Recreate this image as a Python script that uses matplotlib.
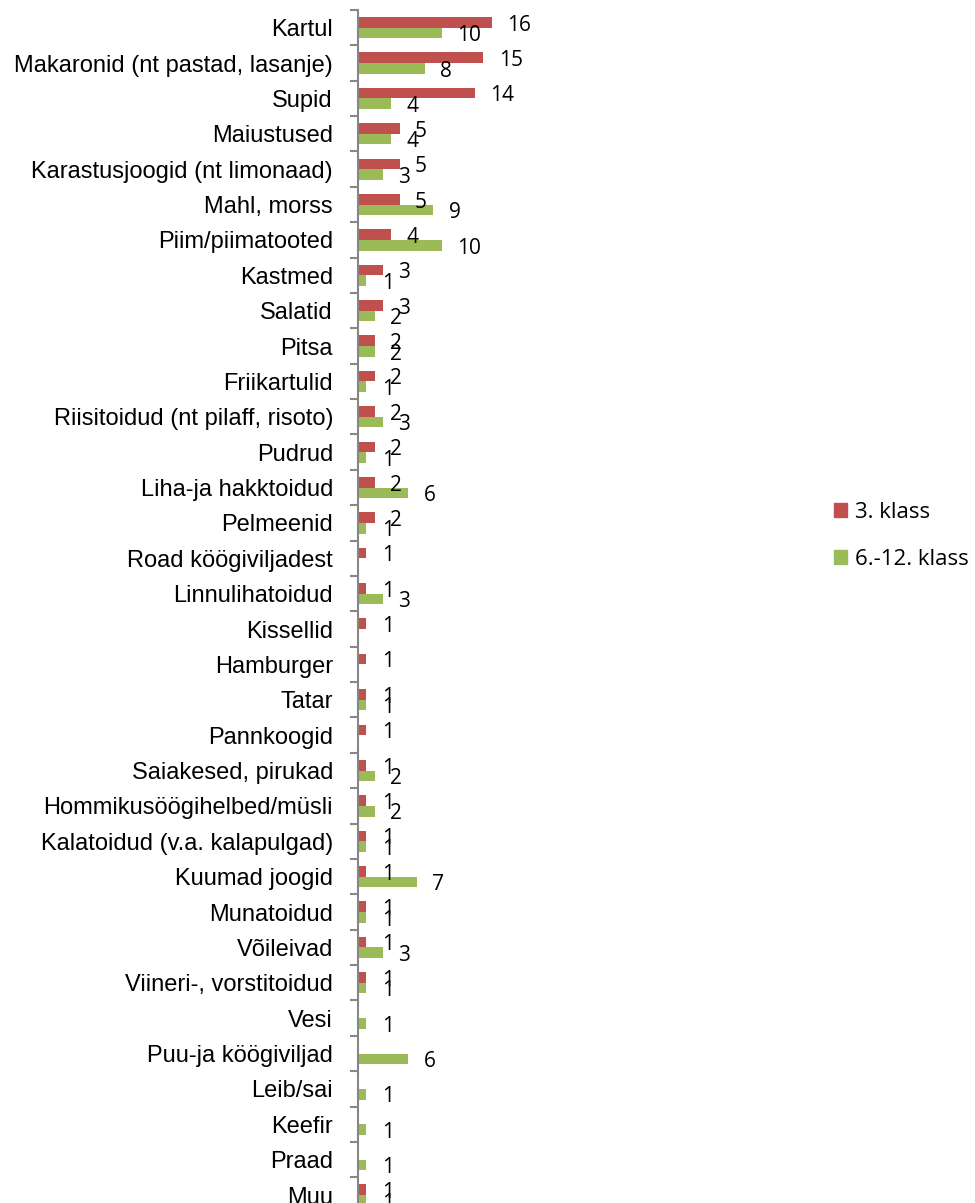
import matplotlib.pyplot as plt
from matplotlib.patches import Patch
import numpy as np

categories = [
    "Kartul", "Makaronid (nt pastad, lasanje)", "Supid", "Maiustused",
    "Karastusjoogid (nt limonaad)", "Mahl, morss", "Piim/piimatooted", "Kastmed",
    "Salatid", "Pitsa", "Friikartulid", "Riisitoidud (nt pilaff, risoto)",
    "Pudrud", "Liha-ja hakktoidud", "Pelmeenid", "Road köögiviljadest",
    "Linnulihatoidud", "Kissellid", "Hamburger", "Tatar", "Pannkoogid",
    "Saiakesed, pirukad", "Hommikusöögihelbed/müsli", "Kalatoidud (v.a. kalapulgad)",
    "Kuumad joogid", "Munatoidud", "Võileivad", "Viineri-, vorstitoidud", "Vesi",
    "Puu-ja köögiviljad", "Leib/sai", "Keefir", "Praad", "Muu",
]
klass3 = [16, 15, 14, 5, 5, 5, 4, 3, 3, 2, 2, 2, 2, 2, 2, 1, 1, 1, 1, 1, 1,
          1, 1, 1, 1, 1, 1, 1, 0, 0, 0, 0, 0, 1]
klass6_12 = [10, 8, 4, 4, 3, 9, 10, 1, 2, 2, 1, 3, 1, 6, 1, 0, 3, 0, 0, 1, 0,
             2, 2, 1, 7, 1, 3, 1, 1, 6, 1, 1, 1, 1]
series_names = ["3. klass", "6.-12. klass"]
red = "#c0504d"
green = "#9bbb59"

fig = plt.figure(figsize=(9.75, 12.03), dpi=100)
n = len(categories)
# axes: left edge at the spine, top a bit below image top, bottom slightly off-image
ax = fig.add_axes([358 / 975, -9.7 / 1203, 442 / 975, (1203 - 10 + 9.7) / 1203])

y = np.arange(n)
h = 0.3
ax.barh(y - h / 2, klass3, height=h, color=red)
ax.barh(y + h / 2, klass6_12, height=h, color=green)

for i in range(n):
    if klass3[i]:
        ax.annotate(str(klass3[i]), (klass3[i], y[i] - h / 2), xytext=(11, -2),
                    textcoords="offset points", ha="left", va="center",
                    fontsize=15, family="Open Sans")
    if klass6_12[i]:
        ax.annotate(str(klass6_12[i]), (klass6_12[i], y[i] + h / 2), xytext=(11, -2),
                    textcoords="offset points", ha="left", va="center",
                    fontsize=15, family="Open Sans")

ax.set_ylim(n - 0.5, -0.5)
ax.set_xlim(0, 442 / 8.36)
ax.set_yticks(y)
ax.set_yticklabels(categories, fontsize=17, family="Liberation Sans")
ax.set_yticks(np.arange(n + 1) - 0.5, minor=True)
ax.tick_params(axis="y", which="major", length=0, pad=18)
ax.tick_params(axis="y", which="minor", length=6, color="#868686", width=1.5)
ax.set_xticks([])
for s in ["top", "right", "bottom"]:
    ax.spines[s].set_visible(False)
ax.spines["left"].set_color("#868686")
ax.spines["left"].set_linewidth(1.5)

handles = [Patch(color=red), Patch(color=green)]
fig.legend(handles, series_names, loc="upper left", bbox_to_anchor=(814 / 975, 1 - 482 / 1203),
           frameon=False, prop={"family": "Open Sans", "size": 16},
           handlelength=0.6, handleheight=0.6, handletextpad=0.35, labelspacing=1.15)

fig.savefig("out.png", dpi=100)
